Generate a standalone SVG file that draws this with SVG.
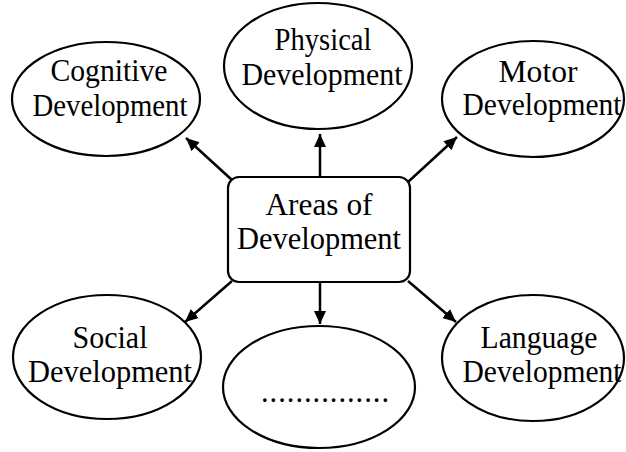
<svg xmlns="http://www.w3.org/2000/svg" width="626" height="452" viewBox="0 0 626 452">
<style>
.n{fill:#fff;stroke:#000;stroke-width:2.2}
.t{font-family:"Liberation Serif","Times New Roman",serif;font-size:30.5px;fill:#000;text-anchor:middle}
.c{stroke:#000;stroke-width:2.5;fill:none}
</style>
<defs>
<marker id="ah" markerUnits="userSpaceOnUse" markerWidth="14" markerHeight="14" viewBox="0 0 14 14" refX="13" refY="7" orient="auto">
<path d="M0,1 L13,7 L0,13 z" fill="#000"/>
</marker>
</defs>
<rect width="626" height="452" fill="#fff"/>
<g id="connectors">
<line class="c" x1="232" y1="180" x2="186" y2="138" marker-end="url(#ah)"/>
<line class="c" x1="320" y1="177" x2="320" y2="134" marker-end="url(#ah)"/>
<line class="c" x1="408" y1="182" x2="457" y2="137" marker-end="url(#ah)"/>
<line class="c" x1="232" y1="281" x2="185" y2="322" marker-end="url(#ah)"/>
<line class="c" x1="320" y1="282" x2="320" y2="324" marker-end="url(#ah)"/>
<line class="c" x1="408" y1="281" x2="456" y2="322" marker-end="url(#ah)"/>
</g>
<g id="center">
<rect class="n" x="228" y="177" width="182" height="105" rx="11"/>
<text class="t" x="319" y="215" textLength="107" lengthAdjust="spacingAndGlyphs">Areas of</text>
<text class="t" x="319" y="249" textLength="164" lengthAdjust="spacingAndGlyphs">Development</text>
</g>
<g id="cognitive">
<ellipse class="n" cx="106" cy="99" rx="94" ry="57"/>
<text class="t" x="109" y="81" textLength="117" lengthAdjust="spacingAndGlyphs">Cognitive</text>
<text class="t" x="110" y="116" textLength="155" lengthAdjust="spacingAndGlyphs">Development</text>
</g>
<g id="physical">
<ellipse class="n" cx="318" cy="66" rx="94" ry="63"/>
<text class="t" x="323" y="50" textLength="97" lengthAdjust="spacingAndGlyphs">Physical</text>
<text class="t" x="322" y="85" textLength="161" lengthAdjust="spacingAndGlyphs">Development</text>
</g>
<g id="motor">
<ellipse class="n" cx="533" cy="99" rx="91" ry="58"/>
<text class="t" x="538" y="82" textLength="79" lengthAdjust="spacingAndGlyphs">Motor</text>
<text class="t" x="542" y="115" textLength="159" lengthAdjust="spacingAndGlyphs">Development</text>
</g>
<g id="social">
<ellipse class="n" cx="107" cy="357" rx="94" ry="62"/>
<text class="t" x="110" y="348" textLength="75" lengthAdjust="spacingAndGlyphs">Social</text>
<text class="t" x="110" y="382" textLength="164" lengthAdjust="spacingAndGlyphs">Development</text>
</g>
<g id="blank">
<ellipse class="n" cx="319" cy="387" rx="96" ry="61"/>
<text class="t" x="325" y="402" textLength="128" lengthAdjust="spacing">...............</text>
</g>
<g id="language">
<ellipse class="n" cx="533" cy="358" rx="91" ry="63"/>
<text class="t" x="539" y="348" textLength="117" lengthAdjust="spacingAndGlyphs">Language</text>
<text class="t" x="542" y="382" textLength="159" lengthAdjust="spacingAndGlyphs">Development</text>
</g>
</svg>
